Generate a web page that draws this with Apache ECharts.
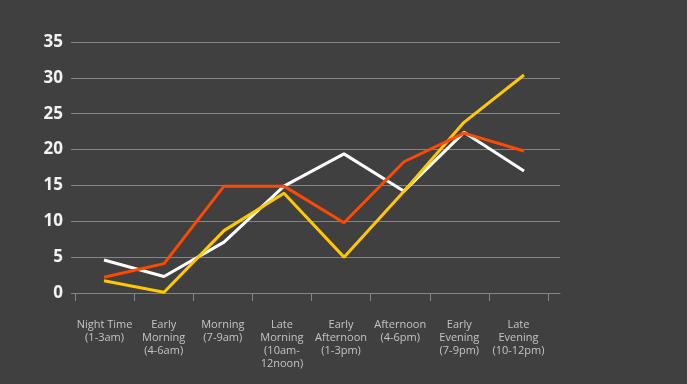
<!DOCTYPE html>
<html><head><meta charset="utf-8">
<script src="https://cdn.jsdelivr.net/npm/echarts@6/dist/echarts.min.js"></script>
<style>html,body{margin:0;padding:0;background:#404040}#c{width:687px;height:384px}</style>
</head><body><div id="c"></div>
<script>
const categories = ["Night Time\n(1-3am)","Early\nMorning\n(4-6am)","Morning\n(7-9am)","Late\nMorning\n(10am-\n12noon)","Early\nAfternoon\n(1-3pm)","Afternoon\n(4-6pm)","Early\nEvening\n(7-9pm)","Late\nEvening\n(10-12pm)"];
const whiteSeries = [4.6, 2.3, 7.1, 14.9, 19.4, 14.2, 22.4, 17.0];
const yellowSeries = [1.7, 0.1, 8.7, 13.9, 5.0, 14.2, 23.8, 30.4];
const orangeSeries = [2.2, 4.1, 14.9, 14.9, 9.8, 18.3, 22.3, 19.8];
const yTicks = [0, 5, 10, 15, 20, 25, 30, 35];

const chart = echarts.init(document.getElementById('c'), null, {renderer:'canvas'});
const yMin = yTicks[0], yMax = yTicks[yTicks.length-1];
chart.setOption({
  backgroundColor:'#404040',
  animation:false,
  grid:[
    {left:75, top:42, height:251, width:485},
    {left:75, top:42, height:251, width:473},
    {left:74, top:42, height:251, width:480}
  ],
  xAxis:[
    {gridIndex:0, type:'value', min:0, max:1,
     axisLine:{show:true, lineStyle:{color:'#858585', width:1}},
     axisTick:{show:false}, axisLabel:{show:false}, splitLine:{show:false}},
    {gridIndex:1, type:'category', data:categories, boundaryGap:true,
     axisLine:{show:false},
     axisTick:{show:true, length:8, lineStyle:{color:'#858585'}},
     axisLabel:{color:'#c4c4c4', fontSize:11, lineHeight:13, margin:25, interval:0, fontFamily:'"Open Sans", sans-serif'},
     splitLine:{show:false}},
    {gridIndex:2, type:'category', data:categories, boundaryGap:true, show:false}
  ],
  yAxis:[
    {gridIndex:0, type:'value', min:yMin, max:yMax, interval:5,
     axisLine:{show:false},
     axisTick:{show:true, length:4, lineStyle:{color:'#858585'}},
     axisLabel:{color:'#f2f2f2', fontSize:17, fontWeight:'bold', margin:12, fontFamily:'"Open Sans", sans-serif'},
     splitLine:{show:true, lineStyle:{color:'#858585', width:1}}},
    {gridIndex:1, type:'value', min:yMin, max:yMax, interval:5, show:false, splitLine:{show:false}},
    {gridIndex:2, type:'value', min:yMin, max:yMax, interval:5, show:false, splitLine:{show:false}}
  ],
  series:[
    {type:'line', xAxisIndex:2, yAxisIndex:2, data:whiteSeries, symbol:'none', lineStyle:{color:'#ffffff', width:3}},
    {type:'line', xAxisIndex:2, yAxisIndex:2, data:yellowSeries, symbol:'none', lineStyle:{color:'#ffc800', width:3}},
    {type:'line', xAxisIndex:2, yAxisIndex:2, data:orangeSeries, symbol:'none', lineStyle:{color:'#ff4800', width:3}}
  ]
});
</script></body></html>
